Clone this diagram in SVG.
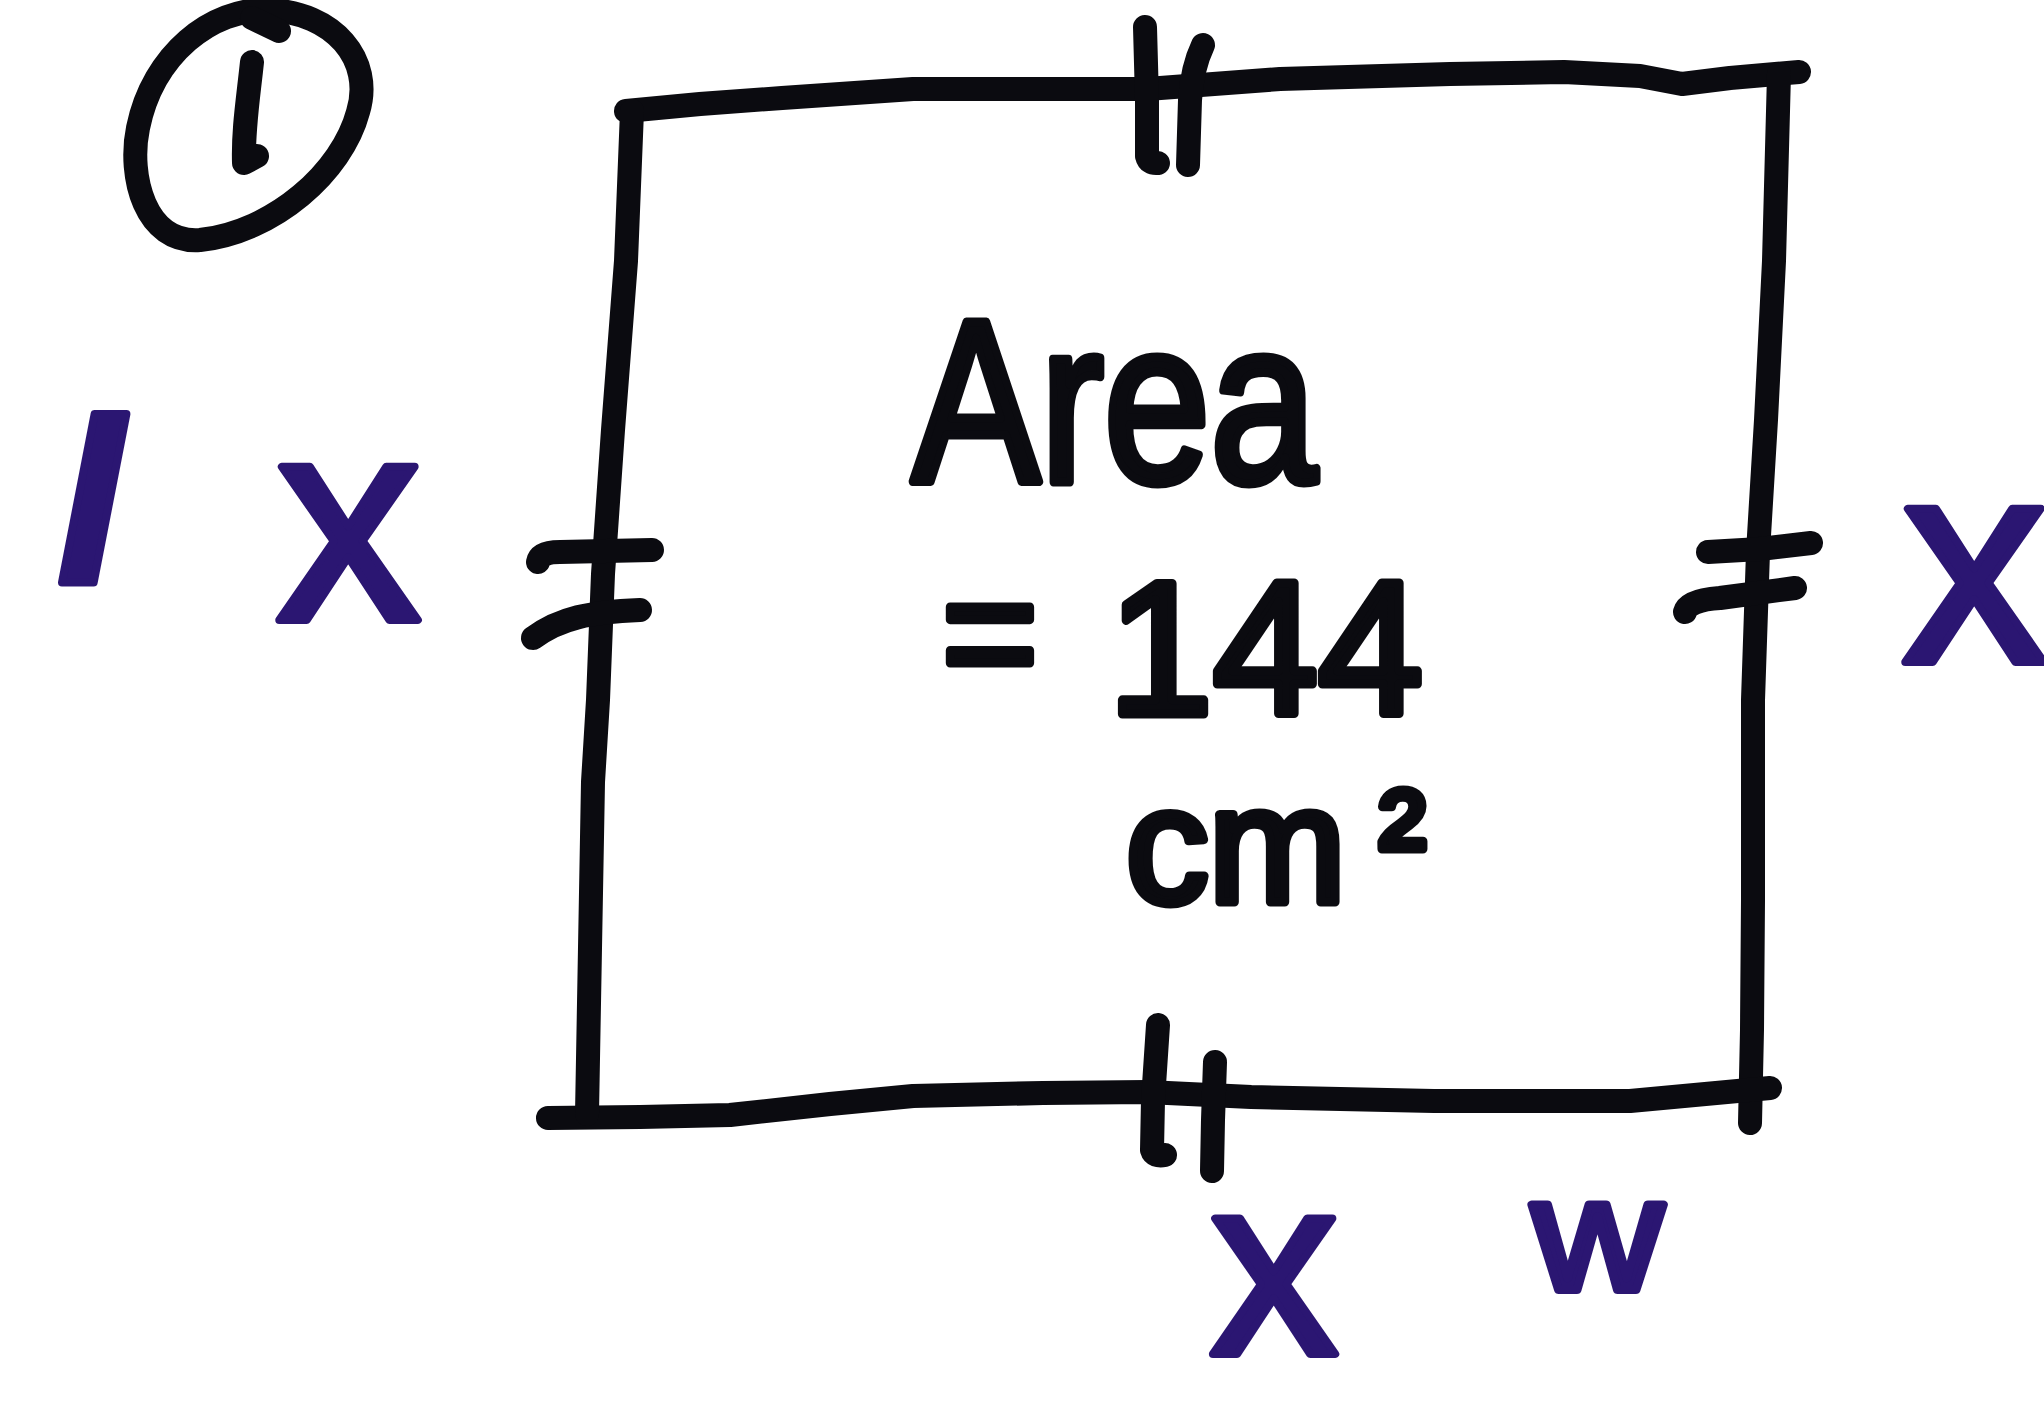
<svg xmlns="http://www.w3.org/2000/svg" width="2044" height="1405" viewBox="0 0 2044 1405">
<style>
.ink{fill:none;stroke:#0b0b10;stroke-width:24;stroke-linecap:round;stroke-linejoin:round}
.blk{fill:#0b0b10;stroke:#0b0b10;stroke-width:9;stroke-linejoin:round;font-family:"Liberation Sans",Arial,sans-serif}
.blu{fill:#2b1672;stroke:#2b1672;stroke-width:8;stroke-linejoin:round;font-family:"Liberation Sans",Arial,sans-serif}
</style>
<rect width="2044" height="1405" fill="#ffffff"/>
<g id="label-circle">
<path class="ink" d="M268,10 C334,12 374,60 358,112 C342,172 274,232 200,240 C145,244 128,176 138,128 C153,54 212,8 268,10 Z"/>
<path class="ink" d="M252,18 L279,31"/>
<path class="ink" d="M252,62 C248,100 243,130 244,163 L257,156"/>
</g>
<g id="square">
<path class="ink" d="M626,111 L700,104 L782,98 L913,89 L1040,89 L1147,89 L1280,79 L1450,74 L1564,72 L1640,76 L1682,84 L1730,78 L1799,72"/>
<path class="ink" d="M1779,74 L1774,261 L1766,420 L1758,552 L1753,700 L1753,900 L1752,1030 L1750,1123"/>
<path class="ink" d="M548,1118 L640,1117 L730,1115 L830,1104 L913,1096 L1043,1093 L1147,1092 L1251,1097 L1434,1101 L1630,1101 L1770,1088"/>
<path class="ink" d="M632,111 L626,261 L613,430 L603,574 L598,700 L593,782 L587,1114"/>
</g>
<g id="connectors">
<path class="ink" d="M1145,27 L1147,100 L1147,156 Q1149,164 1158,163"/>
<path class="ink" d="M1203,45 Q1192,68 1190,100 L1188,165"/>
<path class="ink" d="M1158,1025 L1153,1100 L1152,1150 Q1154,1157 1165,1155"/>
<path class="ink" d="M1215,1062 L1213,1120 L1212,1171"/>
<path class="ink" d="M538,562 Q540,552 560,552 L652,550"/>
<path class="ink" d="M533,638 C560,618 590,612 640,610"/>
<path class="ink" d="M1708,552 L1760,549 L1811,543"/>
<path class="ink" d="M1685,612 Q1688,600 1720,598 L1795,588"/>
</g>
<g id="area-label">
<text class="blk" x="912" y="482" font-size="232" textLength="405" lengthAdjust="spacingAndGlyphs">Area</text>
<text class="blk" x="942" y="692" font-size="175" textLength="96" lengthAdjust="spacingAndGlyphs">=</text>
<text class="blk" x="1108" y="714" font-size="190" textLength="315" lengthAdjust="spacingAndGlyphs">144</text>
<text class="blk" x="1126" y="902" font-size="165">cm<tspan font-size="140" dx="33" dy="-14">²</tspan></text>
</g>
<g id="side-labels">
<text class="blu" x="58" y="582" font-size="232" font-style="italic" font-weight="bold">l</text>
<text class="blu" x="276" y="620" font-size="290">x</text>
<text class="blu" x="1902" y="662" font-size="290">x</text>
<text class="blu" x="1210" y="1354" font-size="256">x</text>
<text class="blu" x="1532" y="1290" font-size="162" textLength="131" lengthAdjust="spacingAndGlyphs">w</text>
</g>
</svg>
